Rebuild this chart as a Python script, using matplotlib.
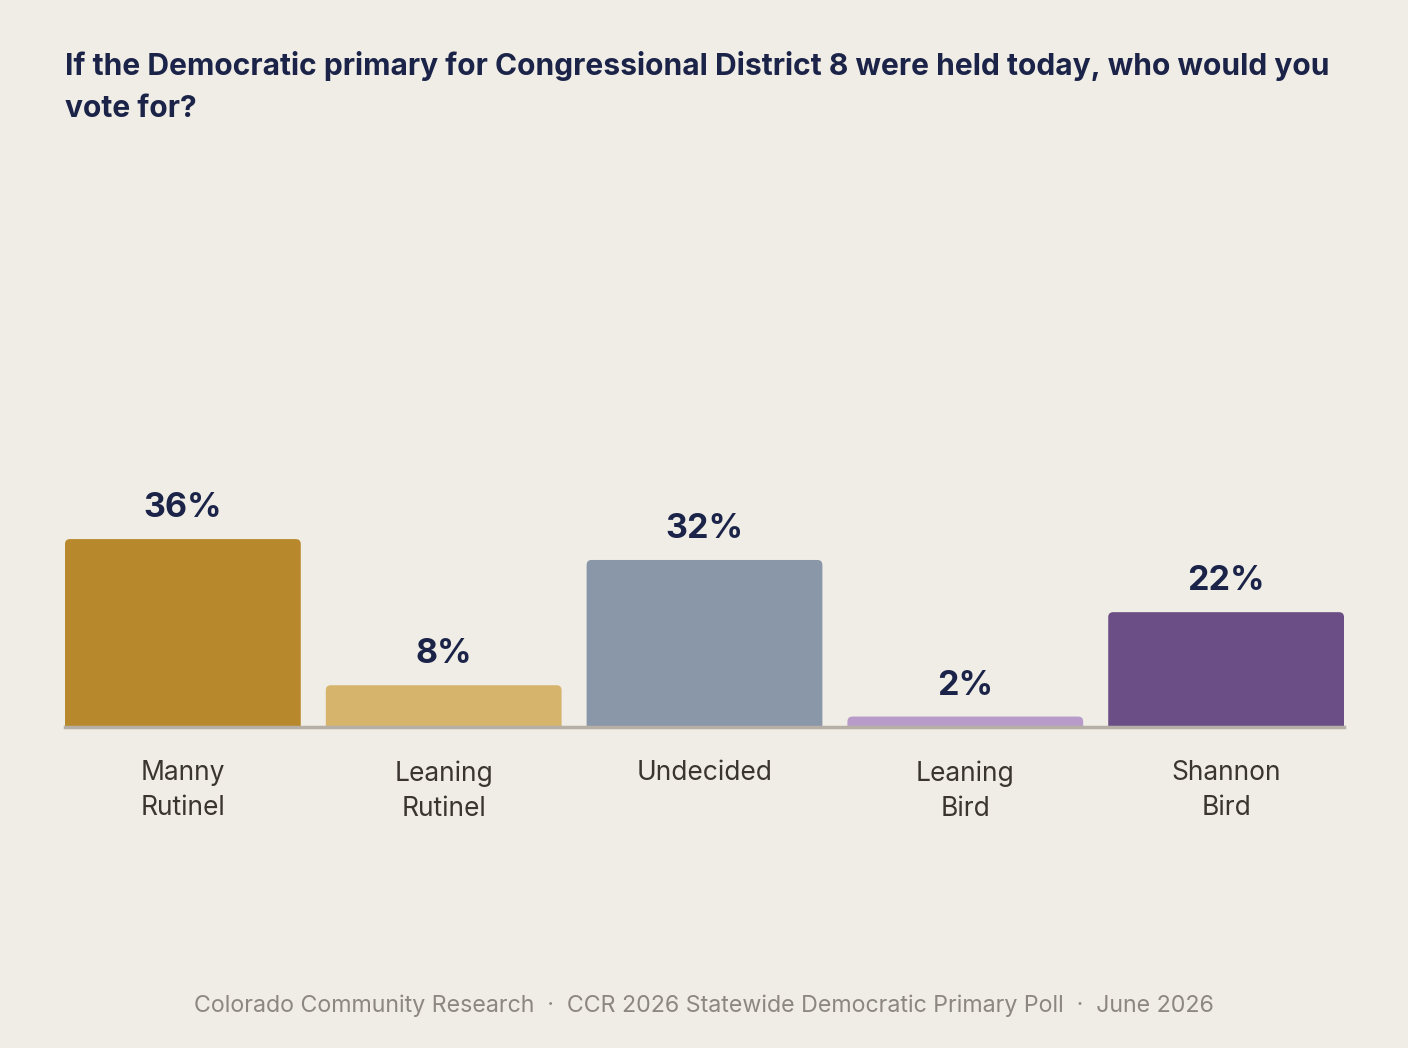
import matplotlib
matplotlib.use('Agg')
import matplotlib.pyplot as plt
from matplotlib.patches import FancyBboxPatch

categories = ['Manny\nRutinel', 'Leaning\nRutinel', 'Undecided', 'Leaning\nBird', 'Shannon\nBird']
values = [36, 8, 32, 2, 22]
value_labels = ['36%', '8%', '32%', '2%', '22%']
colors = ['#B8882C', '#D6B46C', '#8A97A8', '#B89BC9', '#6C4E87']

title = 'If the Democratic primary for Congressional District 8 were held today, who would you\nvote for?'
footer = 'Colorado Community Research  \u00b7  CCR 2026 Statewide Democratic Primary Poll  \u00b7  June 2026'

bg = '#F0EDE6'
navy = '#1B2448'
W, H = 1408, 1048

fig = plt.figure(figsize=(W / 100, H / 100), dpi=100, facecolor=bg)
# axes spans the bar area: left edge of first bar to right edge of last, baseline at bottom
ax = fig.add_axes([65 / W, 1 - 727 / H, (1344 - 65) / W, (727 - 150) / H])
ax.set_facecolor(bg)

ymax = 577 / 5.22
ax.set_xlim(-0.452, len(values) - 1 + 0.452)
ax.set_ylim(0, ymax)

bars = ax.bar(range(len(values)), values, width=0.904, color=colors)

# swap plain bars for ones with rounded top corners
xunit = (len(values) - 1 + 0.904) / (1344 - 65)
yunit = ymax / 577
for b, c in zip(bars, colors):
    b.set_visible(False)
    p = FancyBboxPatch((b.get_x(), -2), b.get_width(), b.get_height() + 2,
                       boxstyle='round,pad=0,rounding_size=%f' % (5 * xunit),
                       mutation_aspect=yunit / xunit, facecolor=c, edgecolor='none')
    ax.add_patch(p)

for i, (v, lab) in enumerate(zip(values, value_labels)):
    ax.annotate(lab, (i, v), xytext=(0, 15), textcoords='offset pixels',
                ha='center', va='bottom', fontsize=24.5, fontweight='bold',
                color=navy, family='Inter')

ax.axhline(0, color='#B5AFA6', lw=2.5, clip_on=False, zorder=5)

ax.set_xticks(range(len(values)))
ax.set_xticklabels(categories, fontsize=19, color='#3A3530', family='Inter', linespacing=1.45)
ax.tick_params(axis='x', length=0, pad=24)
ax.set_yticks([])
for s in ax.spines.values():
    s.set_visible(False)

fig.text(65 / W, 1 - 51 / H, title, ha='left', va='top', fontsize=21.6, fontweight='bold',
         color=navy, family='Inter', linespacing=1.65)
fig.text(0.5, 1 - 1006 / H, footer, ha='center', va='center', fontsize=16.7,
         color='#8C8780', family='Inter')

fig.savefig('out.png', dpi=100, facecolor=bg)
